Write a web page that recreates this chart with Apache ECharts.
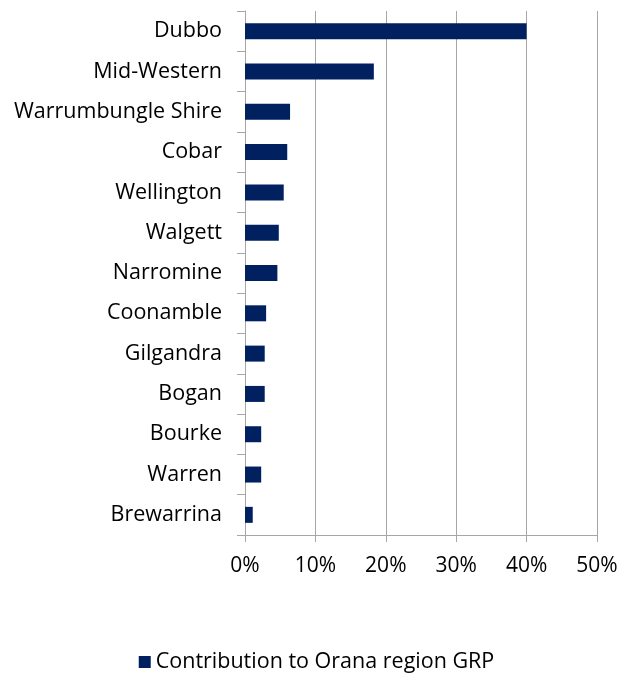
<!DOCTYPE html>
<html>
<head>
<meta charset="utf-8">
<script src="https://cdn.jsdelivr.net/npm/echarts@6/dist/echarts.min.js"></script>
<style>
  * { margin: 0; padding: 0; }
  #chart-container { width: 633px; height: 675px; background: #fff; }
</style>
</head>
<body>
<div id="chart-container"></div>
<script>
  // LGAs, top to bottom
  var councils = ['Dubbo', 'Mid-Western', 'Warrumbungle Shire', 'Cobar', 'Wellington', 'Walgett',
    'Narromine', 'Coonamble', 'Gilgandra', 'Bogan', 'Bourke', 'Warren', 'Brewarrina']
  // share of Orana region GRP, percent
  var grpShare = [40.0, 18.3, 6.4, 6.0, 5.5, 4.8, 4.6, 3.0, 2.8, 2.8, 2.3, 2.3, 1.1]
  var seriesName = 'Contribution to Orana region GRP'

  var myChart = echarts.init(document.getElementById('chart-container'), null, { renderer: 'canvas' })
  var font = '"Open Sans", Lato, sans-serif'

  var option = {
    animation: false,
    grid: {
      left: 245,
      right: 36,
      top: 11,
      bottom: 140,
      outerBoundsMode: 'none',
    },
    legend: {
      bottom: -3,
      left: 'center',
      itemWidth: 12,
      itemHeight: 12,
      itemGap: 6,
      icon: 'rect',
      textStyle: { fontFamily: font, fontSize: 21.5, color: '#000' },
      data: [seriesName],
    },
    xAxis: {
      type: 'value',
      min: 0,
      max: 50,
      interval: 10,
      axisLine: { show: true, lineStyle: { color: '#a6a6a6' } },
      axisTick: { show: true, length: 7, lineStyle: { color: '#a6a6a6' } },
      splitLine: { show: true, lineStyle: { color: '#a6a6a6' } },
      axisLabel: {
        margin: 21,
        fontFamily: font,
        fontSize: 21,
        color: '#000',
        formatter: '{value}%',
      },
    },
    yAxis: {
      type: 'category',
      inverse: true,
      data: councils,
      axisLine: { show: true, lineStyle: { color: '#a6a6a6' } },
      axisTick: { show: true, length: 8, lineStyle: { color: '#a6a6a6' } },
      axisLabel: {
        margin: 23,
        fontFamily: font,
        fontSize: 21.5,
        color: '#000',
      },
    },
    series: [
      {
        name: seriesName,
        type: 'bar',
        data: grpShare,
        barWidth: 16,
        itemStyle: { color: '#002060' },
      },
    ],
  }
  myChart.setOption(option)
</script>
</body>
</html>
